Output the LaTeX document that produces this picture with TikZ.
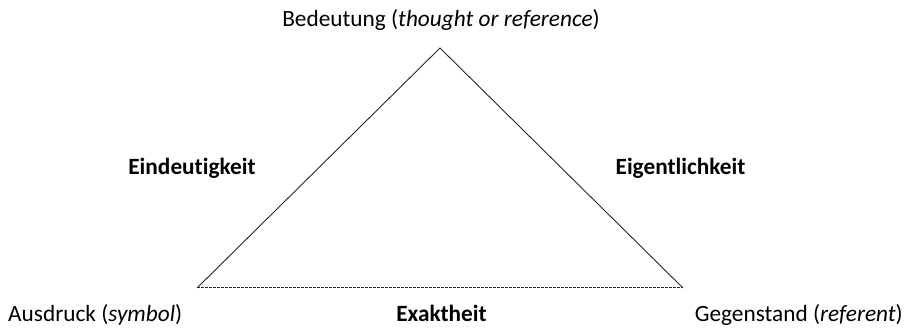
\documentclass[tikz,border=0pt]{standalone}
\usepackage{fontspec}
\setmainfont[Ligatures=NoCommon]{Carlito}
\begin{document}
\begin{tikzpicture}[x=1pt,y=-1pt,
  lbl/.style={inner sep=0pt,font=\fontsize{23.3}{28}\selectfont},
  blbl/.style={lbl,font=\fontsize{23.3}{28}\selectfont\bfseries},
  side/.style={line width=0.9pt,draw=black!85},
  basedash/.style={line width=1pt,draw=black!85,dash pattern=on 3pt off 1pt}]
\useasboundingbox (0,0) rectangle (912,328);
\coordinate (A) at (197,288);
\coordinate (B) at (440,48);
\coordinate (C) at (683,288);
\draw[side] (A) -- (B) -- (C);
\draw[basedash] (A) -- (C);
\node[lbl,anchor=base] (top) at (441,27) {Bedeutung (\textit{thought or reference})};
\node[blbl,anchor=base] (eind) at (192,175) {Eindeutigkeit};
\node[blbl,anchor=base] (eig) at (680.5,175) {Eigentlichkeit};
\node[lbl,anchor=base west] (aus) at (8,322) {Ausdruck (\textit{symbol})};
\node[blbl,anchor=base] (exa) at (441.5,322) {Exaktheit};
\node[lbl,anchor=base east] (geg) at (903,322) {Gegenstand (\textit{referent})};
\end{tikzpicture}
\end{document}
